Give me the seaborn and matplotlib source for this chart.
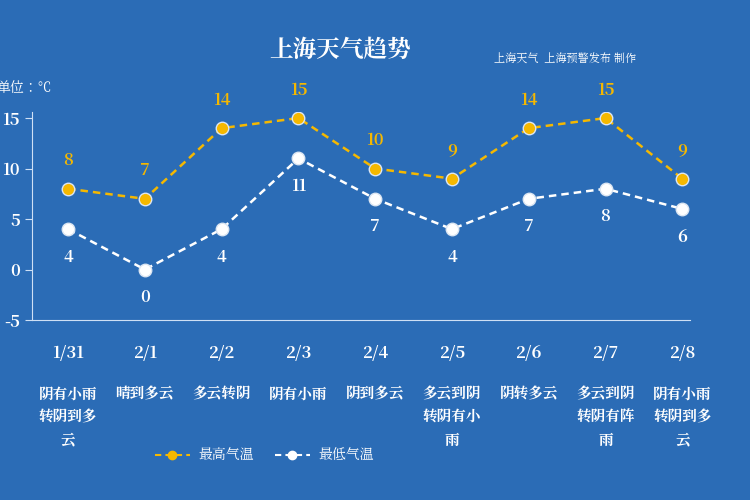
import matplotlib
matplotlib.use("Agg")
import matplotlib.pyplot as plt
from matplotlib import font_manager as fm
import seaborn as sns
import pandas as pd

dates = ["1/31", "2/1", "2/2", "2/3", "2/4", "2/5", "2/6", "2/7", "2/8"]
high = [8, 7, 14, 15, 10, 9, 14, 15, 9]
low = [4, 0, 4, 11, 7, 4, 7, 8, 6]
weather = ["阴有小雨\n转阴到多\n云", "晴到多云", "多云转阴", "阴有小雨", "阴到多云",
           "多云到阴\n转阴有小\n雨", "阴转多云", "多云到阴\n转阴有阵\n雨", "阴有小雨\n转阴到多\n云"]
yticks = [-5, 0, 5, 10, 15]

cjk = None
for f in fm.findSystemFonts():
    if "CJK" in f or "cjk" in f.lower():
        try:
            fm.fontManager.addfont(f)
            name = fm.FontProperties(fname=f).get_name()
            if cjk is None or "SC" in name:
                cjk = name
        except Exception:
            pass
plt.rcParams["font.family"] = [cjk or "Noto Sans CJK SC", "DejaVu Sans"]
bg = "#2b6cb6"
yellow = "#f5b800"
fig = plt.figure(figsize=(7.5, 5), dpi=100, facecolor=bg)
ax = fig.add_axes([32/750, 0.36, (690-32)/750, 0.416])
ax.set_facecolor(bg)
df = pd.DataFrame({"x": range(len(dates)), "high": high, "low": low})
sns.lineplot(data=df, x="x", y="high", ax=ax, color=yellow, lw=1.8, linestyle=(0, (3, 2)),
             marker="o", markersize=9, markeredgecolor="#dce6f2", markeredgewidth=1)
sns.lineplot(data=df, x="x", y="low", ax=ax, color="white", lw=1.8, linestyle=(0, (3, 2)),
             marker="o", markersize=9, markeredgecolor="#dce6f2", markeredgewidth=1)
for i, (h, l) in enumerate(zip(high, low)):
    ax.annotate(str(h), (i, h), xytext=(0, 14), textcoords="offset points", ha="center",
                va="bottom", color=yellow, fontsize=12, fontweight="bold")
    ax.annotate(str(l), (i, l), xytext=(0, -14), textcoords="offset points", ha="center",
                va="top", color="white", fontsize=12, fontweight="bold")
ax.set_xlim(-0.47, 8.1)
ax.set_ylim(-5, 15.6)
ax.set_yticks(yticks)
ax.set_yticklabels([str(t) for t in yticks], color="white", fontsize=12, fontweight="bold")
ax.set_xticks(range(len(dates)))
ax.set_xticklabels(dates, color="white", fontsize=12, fontweight="bold")
ax.tick_params(axis="x", length=0, pad=18)
ax.tick_params(axis="y", color="#cfe0f5", length=5)
for s in ["top", "right"]:
    ax.spines[s].set_visible(False)
for s in ["left", "bottom"]:
    ax.spines[s].set_color("#cfe0f5")
ax.set_xlabel(""); ax.set_ylabel("")
for i, w in enumerate(weather):
    ax.text(i, -0.32, w, transform=ax.get_xaxis_transform(), ha="center", va="top",
            color="white", fontsize=10.5, fontweight="bold", linespacing=1.6)
fig.text(-0.005, 1-88/500, "单位：℃", color="white", fontsize=10, va="center")
fig.text(340/750, 1-50/500, "上海天气趋势", color="white", fontsize=17, fontweight="bold",
         ha="center", va="center")
fig.text(565/750, 1-60/500, "上海天气  上海预警发布 制作", color="white", fontsize=8,
         ha="center", va="center")
ly = 1-455/500
fig.add_artist(plt.Line2D([155/750, 190/750], [ly, ly], color=yellow, lw=1.5, ls=(0, (3, 2))))
fig.add_artist(plt.Line2D([172/750], [ly], color=yellow, marker="o", markersize=6))
fig.text(198/750, ly, "最高气温", color="white", fontsize=10, va="center")
fig.add_artist(plt.Line2D([275/750, 310/750], [ly, ly], color="white", lw=1.5, ls=(0, (3, 2))))
fig.add_artist(plt.Line2D([292/750], [ly], color="white", marker="o", markersize=6))
fig.text(318/750, ly, "最低气温", color="white", fontsize=10, va="center")
fig.savefig("out.png", dpi=100, facecolor=bg)
